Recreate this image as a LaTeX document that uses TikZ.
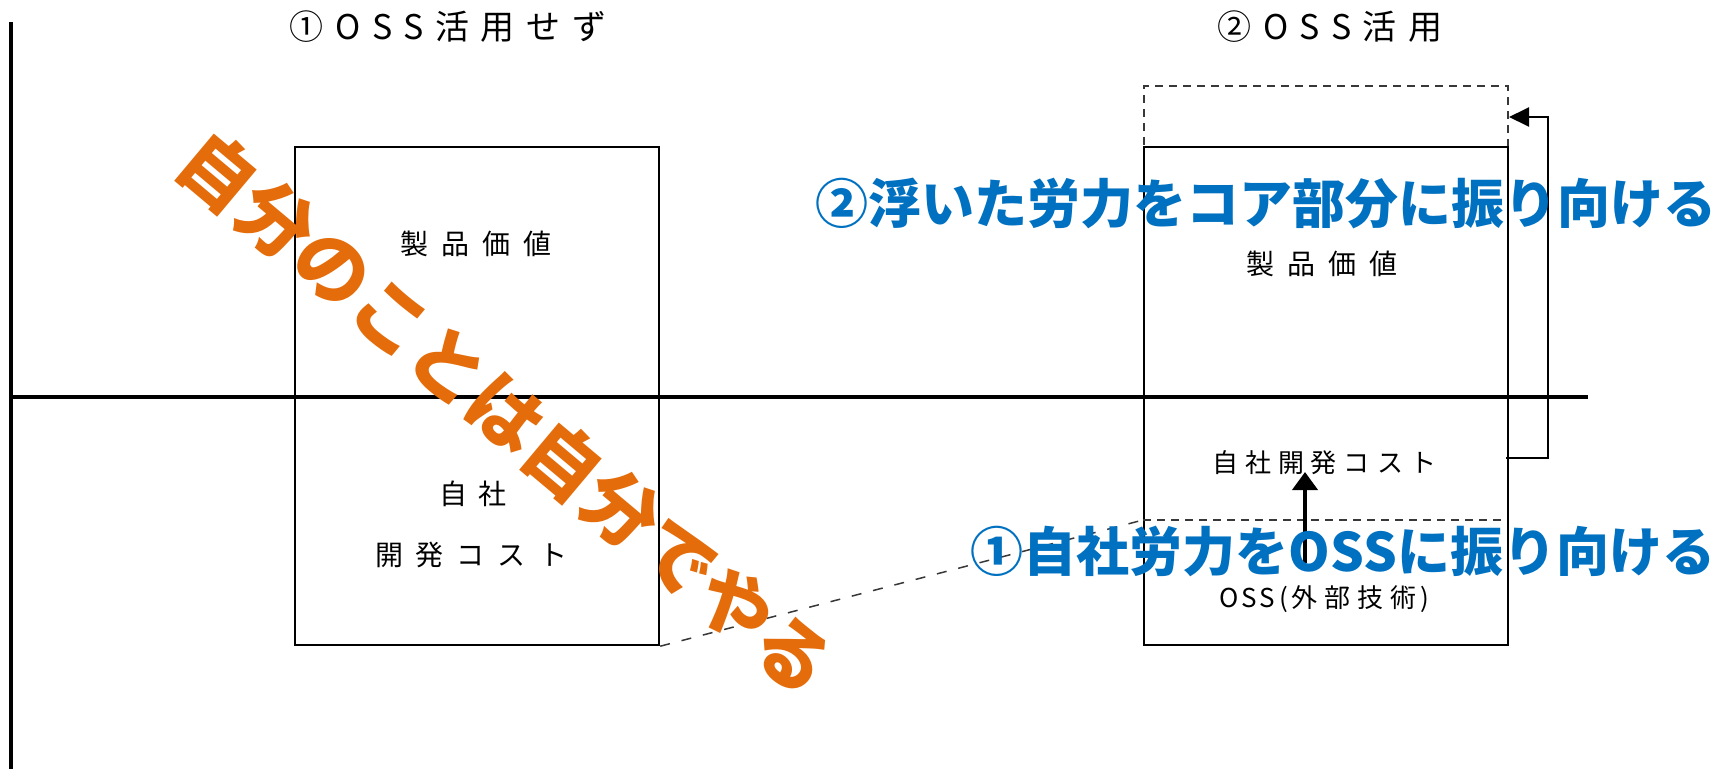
\documentclass[tikz,border=0pt]{standalone}
\usepackage{fontspec}
\usetikzlibrary{arrows.meta}
\newfontfamily\cjk{Noto Sans CJK JP}
\definecolor{oblue}{HTML}{0070C0}
\definecolor{oorange}{HTML}{E46C0A}
\definecolor{dgray}{HTML}{383838}
\newcommand\sepA{\hspace{13pt}}
\newcommand\sepB{\hspace{7pt}}
\begin{document}
\begin{tikzpicture}[x=1pt,y=-1pt,
  axis/.style={line width=4.5pt, black},
  box/.style={draw=black, line width=2.2pt, minimum width=364pt, minimum height=498pt, anchor=north west, inner sep=0pt},
  dashbox/.style={draw=dgray, line width=1.8pt, dash pattern=on 8pt off 6pt, minimum width=364pt, minimum height=61pt, anchor=north west, inner sep=0pt},
  dline/.style={draw=dgray, line width=1.6pt, dash pattern=on 8pt off 6pt},
  diag/.style={draw=dgray, line width=1.5pt, dash pattern=on 10pt off 12pt},
  title/.style={inner sep=0pt, font=\cjk\fontsize{34}{38}\selectfont\addfontfeatures{LetterSpace=34}},
  lab/.style={inner sep=0pt, font=\cjk\fontsize{28}{32}\selectfont},
  labn/.style={inner sep=0pt, font=\cjk\fontsize{26}{30}\selectfont},
  bigblue/.style={inner sep=0pt, text=oblue, font=\cjk\bfseries\fontsize{53}{60}\selectfont},
  bigorange/.style={inner sep=0pt, text=oorange, font=\cjk\bfseries\fontsize{75}{80}\selectfont},
  thinarrow/.style={line width=2pt, -{Triangle[length=20pt,width=19pt]}},
  thickarrow/.style={line width=4pt, -{Triangle[length=18pt,width=25pt]}}
]
\useasboundingbox (0,0) rectangle (1729,769);
% axes
\coordinate (vtop) at (11,22);
\coordinate (vbot) at (11,769);
\coordinate (hL) at (11,397);
\coordinate (hR) at (1588,397);
\draw[axis] (vtop) -- (vbot);
\draw[axis] (hL) -- (hR);
% titles
\node[title] (t1) at (448,27) {①OSS活用せず};
\node[title] (t2) at (1330,27) {②OSS活用};
% boxes
\node[box] (leftbox) at (294,146) {};
\node[dashbox] (dashbox) at (1143,85) {};
\node[box] (rightbox) at (1143,146) {};
\coordinate (ossL) at (1143,520);
\coordinate (ossR) at (1506,520);
\draw[dline] (ossL) -- (ossR);
\draw[diag] (leftbox.south east) -- (ossL);
% labels
\node[lab] (lv) at (476,244) {製\sepA 品\sepA 価\sepA 値};
\node[lab] (lj) at (473,494) {自\hspace{12pt}社};
\node[lab] (lk) at (471,555) {開\sepA 発\sepA コ\sepA ス\sepA ト};
\node[lab] (rv) at (1322,264) {製\sepA 品\sepA 価\sepA 値};
\node[labn] (rk) at (1324,463) {自\sepB 社\sepB 開\sepB 発\sepB コ\sepB ス\sepB ト};
\node[labn] (ro) at (1324,599) {O\hspace{3pt}S\hspace{3pt}S\hspace{4pt}(\hspace{3pt}外\sepB 部\sepB 技\sepB 術\hspace{4pt})};
% arrows
\coordinate (upS) at (1305,563);
\coordinate (upE) at (1305,472);
\draw[thickarrow] (upS) -- (upE);
\coordinate (b1) at (1506,458);
\coordinate (b2) at (1548,458);
\coordinate (b3) at (1548,117);
\coordinate (b4) at (1509,117);
\draw[thinarrow] (b1) -- (b2) -- (b3) -- (b4);
% big texts
\node[bigblue] (m2) at (1266,203) {②浮いた労力をコア部分に振り向ける};
\node[bigblue] (m1) at (1343,551) {①自社労力をOSSに振り向ける};
\node[bigorange, rotate=-40] (slogan) at (506,413) {自分のことは自分でやる};
\end{tikzpicture}
\end{document}
